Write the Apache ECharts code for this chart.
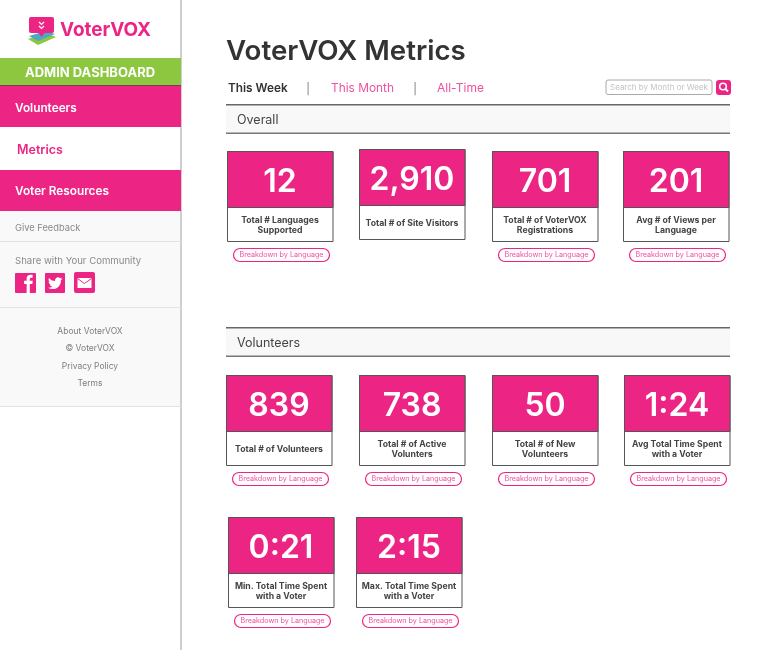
<!DOCTYPE html>
<html>
  <head>
    <meta charset="utf-8" />
    <title>VoterVOX Metrics</title>
    <script src="https://cdn.jsdelivr.net/npm/echarts@6/dist/echarts.min.js"></script>
    <style>
      html, body { margin: 0; padding: 0; background: #fff; }
    </style>
  </head>
  <body>
    <div id="main" style="width: 782px; height: 650px"></div>
  </body>

  <script>
    // content
    var navItems = ["Volunteers", "Metrics", "Voter Resources"];
    var footerLinks = ["About VoterVOX", "© VoterVOX", "Privacy Policy", "Terms"];
    var periodTabs = ["This Week", "This Month", "All-Time"];
    var overallValues = ["12", "2,910", "701", "201"];
    var overallLabels = [
      "Total # Languages\nSupported",
      "Total # of Site Visitors",
      "Total # of VoterVOX\nRegistrations",
      "Avg # of Views per\nLanguage",
    ];
    var overallBreakdown = [true, false, true, true];
    var volunteerValues = ["839", "738", "50", "1:24", "0:21", "2:15"];
    var volunteerLabels = [
      "Total # of Volunteers",
      "Total # of Active\nVolunters",
      "Total # of New\nVolunteers",
      "Avg Total Time Spent\nwith a Voter",
      "Min. Total Time Spent\nwith a Voter",
      "Max. Total Time Spent\nwith a Voter",
    ];

    // card top-left corners, same order as the values above
    var overallSlots = [[227, 151], [359, 149], [492, 151], [623, 151]];
    var volunteerSlots = [[226, 375], [359, 375], [492, 375], [624, 375], [228, 517], [356, 517]];

    var PINK = "#ec2585";
    var LINK = "#f0509f";
    var FONT = "Inter, sans-serif";
    var els = [];

    // the graphic component has no plain "path" type, so register the two glyphs
    echarts.graphic.registerShape(
      "fbGlyph",
      echarts.graphic.extendPath(
        "M9 24V13H6V9h3V6.5C9 3.4 10.9 2 13.6 2c1.3 0 2.4.1 2.4.1v3.6h-1.7C13 5.7 12.7 6.4 12.7 7.3V9h3.5l-.5 4h-3v11z"
      )
    );
    echarts.graphic.registerShape(
      "twGlyph",
      echarts.graphic.extendPath(
        "M23.953 4.57 a10 10 0 0 1 -2.825 .775 a4.958 4.958 0 0 0 2.163 -2.723 c-.951.555-2.005.959-3.127 1.184 a4.92 4.92 0 0 0 -8.384 4.482 C7.69 8.095 4.067 6.13 1.64 3.162 a4.822 4.822 0 0 0 -.666 2.475 c0 1.71.87 3.213 2.188 4.096 a4.904 4.904 0 0 1 -2.228 -.616 v.06 a4.923 4.923 0 0 0 3.946 4.827 a4.996 4.996 0 0 1 -2.212 .085 a4.936 4.936 0 0 0 4.604 3.417 a9.867 9.867 0 0 1 -6.102 2.105 c-.39 0-.779-.023-1.17-.067 a13.995 13.995 0 0 0 7.557 2.209 c9.053 0 13.998-7.496 13.998-13.985 c0-.21 0-.42-.015-.63 A9.935 9.935 0 0 0 24 4.59 z"
      )
    );

    function rect(x, y, w, h, fill, stroke, r, lw) {
      els.push({
        type: "rect",
        shape: { x: x, y: y, width: w, height: h, r: r || 0 },
        style: { fill: fill || "transparent", stroke: stroke || null, lineWidth: lw || 1 },
      });
    }
    function text(str, x, y, size, color, weight, align, lh) {
      els.push({
        type: "text",
        x: x,
        y: y,
        style: {
          text: str,
          fill: color,
          font: (weight || 400) + " " + size + "px " + FONT,
          textAlign: align || "left",
          textVerticalAlign: "middle",
          lineHeight: lh || size + 2,
        },
      });
    }
    function glyph(type, x, y, scale, fill) {
      els.push({ type: type, x: x, y: y, scaleX: scale, scaleY: scale, style: { fill: fill } });
    }

    // sidebar
    rect(0, 211, 181, 195, "#f9f9f9");
    rect(180, 0, 2, 650, "#cfcfcf");
    rect(0, 58, 181, 27, "#8dc63f");
    rect(0, 85, 181, 1, "#7a3b5c");
    rect(0, 86, 181, 41, PINK);
    rect(0, 170, 181, 41, PINK);
    text("ADMIN DASHBOARD", 90, 73, 13, "#fff", 700, "center");
    text(navItems[0], 15, 108.5, 11.8, "#fff", 600);
    text(navItems[1], 17, 150, 12.5, PINK, 600);
    text(navItems[2], 15, 191, 11.8, "#fff", 600);
    text("Give Feedback", 15, 228, 9.3, "#8a8a8a", 400);
    rect(0, 241, 181, 1, "#e2e2e2");
    text("Share with Your Community", 15, 261.5, 9.6, "#8a8a8a", 400);
    rect(0, 307, 181, 1, "#e2e2e2");
    rect(0, 406, 181, 1, "#e2e2e2");
    footerLinks.forEach(function (s, i) {
      text(s, 90, 331 + i * 17.5, 8.5, "#7d7d7d", 400, "center");
    });

    // logo
    els.push({ type: "polygon", shape: { points: [[28, 39], [46, 33], [56, 37], [38, 45]] }, style: { fill: "#8dc63f" } });
    els.push({ type: "polygon", shape: { points: [[29, 36], [46, 31], [55, 34], [38, 41]] }, style: { fill: "#4fa6c8" } });
    rect(29, 17, 25, 16, PINK, null, 2);
    els.push({ type: "polygon", shape: { points: [[38, 32], [45, 32], [41.5, 37]] }, style: { fill: PINK } });
    els.push({ type: "polyline", shape: { points: [[39, 22], [41.5, 24.5], [44, 22]] }, style: { stroke: "#fff", lineWidth: 1.2, fill: null } });
    els.push({ type: "polyline", shape: { points: [[39, 26], [41.5, 28.5], [44, 26]] }, style: { stroke: "#fff", lineWidth: 1.2, fill: null } });
    text("VoterVOX", 60, 30.5, 18.9, PINK, 700);

    // share icons
    rect(15, 273, 21, 20, PINK, null, 1);
    glyph("fbGlyph", 19, 273, 0.85, "#fff");
    rect(45, 273, 20, 20, PINK, null, 1);
    glyph("twGlyph", 48, 276, 0.6, "#fff");
    rect(74, 272, 21, 21, PINK, null, 2);
    rect(77.5, 278, 14, 10, "#fff");
    els.push({ type: "polyline", shape: { points: [[77.5, 278.5], [84.5, 283.5], [91.5, 278.5]] }, style: { stroke: PINK, lineWidth: 1, fill: null } });

    // header
    text("VoterVOX Metrics", 226, 52, 27.7, "#333", 600);
    text(periodTabs[0], 228, 88.5, 11.8, "#333", 600);
    text("|", 308, 90, 11, "#777", 400, "center");
    text(periodTabs[1], 331, 88.5, 11.9, LINK, 400);
    text("|", 415, 90, 11, "#777", 400, "center");
    text(periodTabs[2], 437, 88.5, 12, LINK, 400);

    // search box
    rect(606, 80, 106, 14.5, "#fff", "#aaa", 2);
    text("Search by Month or Week", 610, 87.5, 8, "#c4c4c4", 400);
    rect(716, 80, 15, 15, PINK, null, 3);
    els.push({ type: "circle", shape: { cx: 723, cy: 86.5, r: 3.3 }, style: { fill: null, stroke: "#fff", lineWidth: 1.6 } });
    els.push({ type: "line", shape: { x1: 725.5, y1: 89, x2: 728, y2: 91.5 }, style: { stroke: "#fff", lineWidth: 1.8 } });

    // section bars
    function section(title, y1, y2) {
      rect(226, y1, 504, y2 - y1, "#f8f8f8");
      rect(226, y1 - 1, 504, 1.5, "#666");
      rect(226, y2 - 0.5, 504, 1.5, "#777");
      text(title, 237, (y1 + y2) / 2 + 1.5, 12.5, "#444", 400);
    }
    section("Overall", 105, 133);
    section("Volunteers", 328, 356);

    function card(x, y, value, label, hasBreakdown) {
      rect(x + 0.5, y + 0.5, 105.5, 90, "#fff", "#555");
      rect(x + 0.5, y + 0.5, 105.5, 56, PINK, "#555");
      text(value, x + 53, y + 31, 32, "#fff", 600, "center");
      text(label, x + 53, y + 74.5, 8.7, "#444", 700, "center", 10.5);
      if (hasBreakdown) {
        rect(x + 6.5, y + 97.5, 96, 13, "#fff", PINK, 6.5, 1.2);
        text("Breakdown by Language", x + 54.5, y + 104, 7.2, LINK, 400, "center");
      }
    }
    overallValues.forEach(function (v, i) {
      card(overallSlots[i][0], overallSlots[i][1], v, overallLabels[i], overallBreakdown[i]);
    });
    volunteerValues.forEach(function (v, i) {
      card(volunteerSlots[i][0], volunteerSlots[i][1], v, volunteerLabels[i], true);
    });

    var myChart = echarts.init(document.getElementById("main"));
    myChart.setOption({
      animation: false,
      graphic: { elements: els },
    });
  </script>
</html>
